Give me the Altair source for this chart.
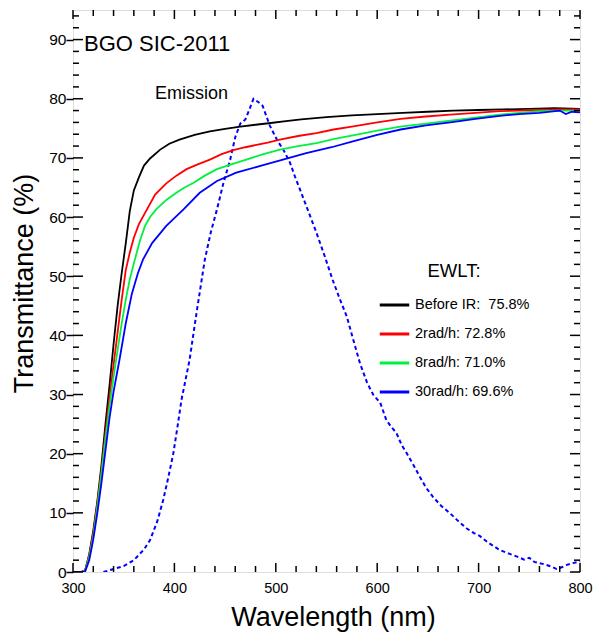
import altair as alt
import pandas as pd

# ---------------- data ----------------
series_names = ["Before IR:\u00a0 75.8%", "2rad/h: 72.8%", "8rad/h: 71.0%", "30rad/h: 69.6%"]
series_colors = ["#000000", "#ff0000", "#00f040", "#0000ff"]

bk_wl = [300, 308, 312, 316, 320, 324, 328, 332, 336, 340, 344, 348, 352, 356, 360, 365, 370, 376, 386, 395,
         405, 420, 435, 450, 465, 480, 495, 510, 525, 550, 575, 600, 625, 650, 675, 700, 725, 750, 775, 800]
bk_t = [0, 0, 0.3, 3, 7, 12, 18, 25, 31.5, 38.5, 45, 50.5, 55.5, 61, 64.5, 66.7, 68.7, 69.9, 71.4, 72.4,
        73.1, 73.9, 74.5, 74.9, 75.3, 75.6, 75.9, 76.2, 76.5, 76.9, 77.2, 77.4, 77.6, 77.8, 78.0, 78.1, 78.2, 78.3, 78.4, 78.3]

rd_wl = [300, 308, 312, 316, 320, 324, 328, 332, 336, 340, 344, 348, 352, 356, 360, 365, 372, 381, 392, 402,
         412, 423, 435, 446, 458, 470, 481, 492, 504, 522, 540, 557, 575, 600, 623, 648, 672, 697, 721, 740, 760, 780, 800]
rd_t = [0, 0, 0.3, 2.8, 6.5, 11.5, 17, 23.5, 29.5, 35, 40.5, 46, 51, 54, 56.5, 58.8, 61, 63.8, 65.7, 67,
        68.1, 68.9, 69.7, 70.6, 71.3, 71.8, 72.2, 72.6, 73.1, 73.7, 74.2, 74.8, 75.3, 76.0, 76.6, 77.0, 77.3, 77.6, 77.9, 78.0, 78.1, 78.2, 78.2]

gr_wl = [300, 308, 312, 316, 320, 324, 328, 332, 336, 340, 344, 348, 352, 356, 361, 366, 371, 376, 382, 392,
         402, 410, 419, 430, 442, 456, 471, 487, 504, 522, 540, 558, 576, 600, 623, 648, 672, 697, 721, 740, 760, 780, 800]
gr_t = [0, 0, 0.2, 2.5, 6, 11, 16.5, 22.5, 28, 33, 37.5, 42, 46, 49.5, 52.8, 56, 58.5, 60, 61.3, 62.9,
        64.1, 65, 65.8, 67, 68.1, 68.9, 69.7, 70.6, 71.4, 72, 72.5, 73.2, 73.8, 74.6, 75.3, 75.8, 76.3, 76.8, 77.3, 77.6, 77.9, 78.0, 78.0]

bl_wl = [300, 308, 312, 316, 320, 324, 328, 332, 336, 340, 346, 352, 358, 364, 369, 378, 392, 409, 425, 442,
         461, 484, 507, 530, 555, 576, 600, 623, 648, 672, 697, 721, 740, 760, 780, 786, 792, 800]
bl_t = [0, 0, 0.1, 2, 5.5, 10, 15, 20.5, 26, 30.5, 36, 42, 47, 50.5, 52.8, 55.6, 58.5, 61.3, 64.1, 66.1,
        67.5, 68.6, 69.7, 70.8, 71.8, 72.8, 73.9, 74.8, 75.5, 76.0, 76.6, 77.1, 77.4, 77.6, 78.0, 77.4, 77.8, 77.7]

em_wl = [330, 340, 350, 360, 370, 376, 383, 389, 394, 399, 403, 407, 415, 422, 430, 436, 442, 448, 455, 460,
         465, 470, 474, 478, 483, 487, 494, 501, 508, 514, 519, 524, 532, 540, 548, 556, 563, 570, 576, 583,
         590, 596, 603, 609, 614, 619, 624, 629, 636, 642, 648, 655, 663, 672, 680, 688, 695, 701, 710, 721,
         730, 738, 745, 750, 755, 765, 772, 777, 782, 787, 793, 800]
em_v = [0, 0.5, 1.0, 2.0, 3.8, 5.4, 8.5, 12.2, 16, 20.1, 24.5, 29.1, 35.9, 44, 52.8, 57.5, 61.3, 65.5, 69.7, 73.5,
        75.8, 76.5, 78.2, 80.0, 79.4, 78.8, 75.5, 73.1, 71.2, 69.2, 66.8, 64.6, 61, 57.4, 53.5, 49.4, 46.2, 43.2, 39.5, 35.3,
        32, 30, 28.6, 25.7, 24.5, 23.5, 21.5, 20.1, 18.0, 16.1, 14.3, 12.7, 11.2, 9.9, 8.6, 7.4, 6.6, 6.1, 4.9, 3.7,
        3.1, 2.6, 2.1, 2.4, 1.7, 1.3, 0.9, 0.5, 0.8, 1.2, 1.5, 1.8]

x_major = [300, 400, 500, 600, 700, 800]
x_minor = [v for v in range(300, 801, 20) if v % 100 != 0]
y_major = [0, 10, 20, 30, 40, 50, 60, 70, 80, 90]
y_minor = [v for v in range(0, 95, 2) if v % 10 != 0]

ann_text = ["BGO SIC-2011", "Emission"]
ann_x = [310.8, 380.9]
ann_y = [88.0, 80.0]
ann_size = [22, 18]

# ---------------- frames ----------------
rows = []
for name, wl, t in zip(series_names, [bk_wl, rd_wl, gr_wl, bl_wl], [bk_t, rd_t, gr_t, bl_t]):
    for a, b in zip(wl, t):
        rows.append({"series": name, "wl": a, "t": b})
df = pd.DataFrame(rows)
df_em = pd.DataFrame({"wl": em_wl, "t": em_v})
df_xmaj = pd.DataFrame({"wl": x_major})
df_xmin = pd.DataFrame({"wl": x_minor})
df_ymaj = pd.DataFrame({"t": y_major})
df_ymin = pd.DataFrame({"t": y_minor})
df_ann = pd.DataFrame({"text": ann_text, "wl": ann_x, "t": ann_y, "size": ann_size})

W, H = 507, 562
FONT = "Liberation Sans"
xs = alt.Scale(domain=[300, 800], nice=False, zero=False)
ys = alt.Scale(domain=[0, 95], nice=False, zero=False)

x_axis = alt.Axis(
    title="Wavelength (nm)", values=x_major, grid=False, domain=False, ticks=False,
    labelFontSize=14.5, labelPadding=9, labelFlush=False, labelFont=FONT, labelColor="#000",
    titleFont=FONT, titleFontSize=27, titleFontWeight="normal", titleColor="#000",
    titleX=260, titleY=53, titleBaseline="alphabetic", titleAnchor="middle")
y_axis = alt.Axis(
    title="Transmittance (%)", values=y_major, grid=False, domain=False,
    tickSize=7, tickWidth=1.5, tickColor="#000",
    labelFontSize=15.5, labelPadding=0, labelFlush=False, labelFont=FONT, labelColor="#000",
    titleFont=FONT, titleFontSize=27, titleFontWeight="normal", titleColor="#000",
    titleX=-41, titleY=273, titleAngle=-90, titleBaseline="alphabetic", titleAlign="center")

X = alt.X("wl:Q", scale=xs, axis=x_axis, title="Wavelength (nm)")
Y = alt.Y("t:Q", scale=ys, axis=y_axis, title="Transmittance (%)")

lines = alt.Chart(df).mark_line(strokeWidth=1.8, clip=True).encode(
    x=X, y=Y,
    color=alt.Color("series:N", sort=series_names,
                    scale=alt.Scale(domain=series_names, range=series_colors),
                    legend=alt.Legend(title="EWLT:", orient="none", legendX=305, legendY=252,
                                      symbolType="stroke", symbolSize=870, symbolStrokeWidth=3,
                                      labelFont=FONT, labelFontSize=14.5, labelColor="#000", labelOffset=4,
                                      titleFont=FONT, titleFontSize=18.5, titleFontWeight="normal",
                                      titleColor="#000", titleAnchor="middle", titlePadding=8,
                                      rowPadding=6, padding=0, labelLimit=300)),
    order="wl:Q",
)

emission = alt.Chart(df_em).mark_line(strokeWidth=2, strokeDash=[4, 3], color="#0000ff", clip=True).encode(
    x=X, y=Y, order="wl:Q",
)

def xt(d, top, length):
    if top:
        return alt.Chart(d).mark_rule(color="#000", strokeWidth=1.5).encode(
            x=X, y=alt.value(0), y2=alt.value(length))
    return alt.Chart(d).mark_rule(color="#000", strokeWidth=1.5).encode(
        x=X, y=alt.value(H), y2=alt.value(H - length))

def yt(d, right, length):
    if right:
        return alt.Chart(d).mark_rule(color="#000", strokeWidth=1.5).encode(
            y=Y, x=alt.value(W), x2=alt.value(W - length))
    return alt.Chart(d).mark_rule(color="#000", strokeWidth=1.5).encode(
        y=Y, x=alt.value(0), x2=alt.value(length))

ticks = [xt(df_xmaj, False, 9), xt(df_xmin, False, 6), xt(df_xmaj, True, 9), xt(df_xmin, True, 6),
         yt(df_ymaj, False, 10), yt(df_ymin, False, 6), yt(df_ymaj, True, 10), yt(df_ymin, True, 6)]

ann = alt.Chart(df_ann).mark_text(align="left", baseline="alphabetic", font=FONT, color="#000").encode(
    x=X, y=Y,
    text="text:N",
    size=alt.Size("size:Q", scale=None, legend=None),
)

chart = alt.layer(emission, lines, ann, *ticks).properties(
    width=W, height=H,
    autosize=alt.AutoSizeParams(type="none"),
    padding={"left": 73, "top": 10, "right": 17, "bottom": 62},
).configure_view(stroke="#000", strokeWidth=2.7).configure(background="white")

chart.save("out.html", embed_options={"renderer": "svg", "actions": False})
